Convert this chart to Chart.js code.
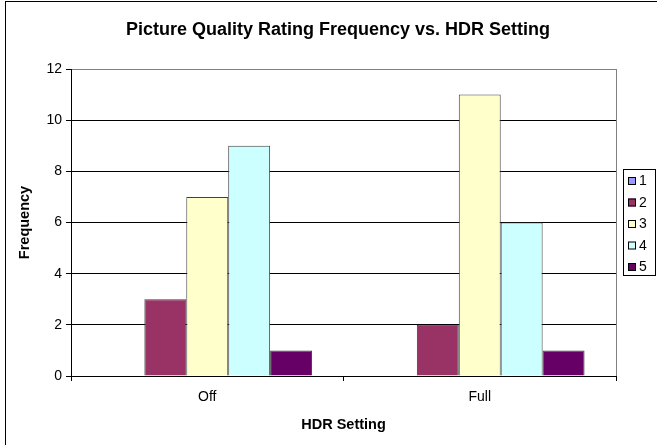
<!DOCTYPE html>
<html>
<head>
<meta charset="utf-8">
<script src="https://cdn.jsdelivr.net/npm/chart.js@4"></script>
<style>
  body { margin: 0; background: #fff; }
  canvas { display: block; }
</style>
</head>
<body>
<canvas id="hdrChart" width="657" height="445"></canvas>
<script>
// Picture quality rating counts per HDR setting
const categories = ['Off', 'Full'];
const ratings = ['1', '2', '3', '4', '5'];
const rating1 = [0, 0];
const rating2 = [3, 2];
const rating3 = [7, 11];
const rating4 = [9, 6];
const rating5 = [1, 1];
const yTicks = [0, 2, 4, 6, 8, 10, 12];

const seriesValues = [rating1, rating2, rating3, rating4, rating5];
const seriesColors = ['#9999FF', '#993366', '#FFFFCC', '#CCFFFF', '#660066'];
const font = 'Liberation Sans, Arial, sans-serif';

// frame, plot border and the boxed legend like the old Excel look
const excelFrame = {
    id: 'excelFrame',
    afterLayout(chart) {
        // the excel chart object is wider than the picture, title sits a bit right
        if (chart.titleBlock) {
            chart.titleBlock.left = 19;
            chart.titleBlock.right = 657;
        }
    },
    afterDraw(chart) {
        const ctx = chart.ctx;
        const area = chart.chartArea;
        ctx.save();
        ctx.lineWidth = 1;
        ctx.strokeStyle = '#000';
        ctx.strokeRect(5.5, 1.5, 800, 600);

        ctx.strokeStyle = '#808080';
        ctx.beginPath();
        ctx.moveTo(Math.round(area.right) + 0.5, area.top);
        ctx.lineTo(Math.round(area.right) + 0.5, area.bottom);
        ctx.stroke();

        // legend
        ctx.strokeStyle = '#000';
        ctx.strokeRect(623.5, 169.5, 32, 106);
        ctx.font = '14px ' + font;
        ctx.textBaseline = 'middle';
        ctx.textAlign = 'left';
        chart.data.datasets.forEach((ds, i) => {
            const y = 177 + i * 21.5;
            ctx.fillStyle = ds.backgroundColor;
            ctx.fillRect(628, y, 8, 8);
            ctx.strokeStyle = '#000';
            ctx.strokeRect(628.5, y + 0.5, 7, 7);
            ctx.fillStyle = '#000';
            ctx.fillText(ds.label, 639, y + 4.5);
        });
        ctx.restore();
    }
};

const ctx = document.getElementById('hdrChart').getContext('2d');
const hdrChart = new Chart(ctx, {
    type: 'bar',
    data: {
        labels: categories,
        datasets: ratings.map((r, i) => ({
            label: r,
            data: seriesValues[i],
            backgroundColor: seriesColors[i],
            borderColor: '#404040',
            borderWidth: 1,
            categoryPercentage: 5 / 6.5,
            barPercentage: 1
        }))
    },
    options: {
        responsive: false,
        animation: false,
        layout: { padding: { top: 0, right: 41, bottom: 0, left: 0 } },
        plugins: {
            legend: { display: false },
            tooltip: { enabled: false },
            title: {
                display: true,
                text: 'Picture Quality Rating Frequency vs. HDR Setting',
                color: '#000',
                font: { family: font, size: 18, weight: 'bold' },
                padding: { top: 19, bottom: 28.4 }
            }
        },
        scales: {
            x: {
                grid: {
                    display: true,
                    drawOnChartArea: false,
                    color: '#000',
                    tickLength: 5
                },
                border: { color: '#000' },
                ticks: {
                    color: '#000',
                    padding: 8,
                    font: { family: font, size: 14 }
                },
                title: {
                    display: true,
                    text: 'HDR Setting',
                    color: '#000',
                    font: { family: font, size: 14.5, weight: 'bold' },
                    padding: { top: 0, bottom: 11.3 }
                },
                afterFit(scale) { scale.height = 445 - 376; }
            },
            y: {
                min: 0,
                max: 12,
                afterBuildTicks(scale) { scale.ticks = yTicks.map(v => ({ value: v })); },
                grid: {
                    color: c => (c.tick && c.tick.value === 12 ? '#808080' : '#000'),
                    tickColor: '#000',
                    tickLength: 5
                },
                border: { color: '#000' },
                ticks: {
                    color: '#000',
                    padding: 4,
                    font: { family: font, size: 14 }
                },
                title: {
                    display: true,
                    text: 'Frequency',
                    color: '#000',
                    font: { family: font, size: 14.5, weight: 'bold' },
                    padding: { top: 16.3, bottom: 0 }
                },
                afterFit(scale) { scale.width = 71; }
            }
        }
    },
    plugins: [excelFrame]
});
</script>
</body>
</html>
